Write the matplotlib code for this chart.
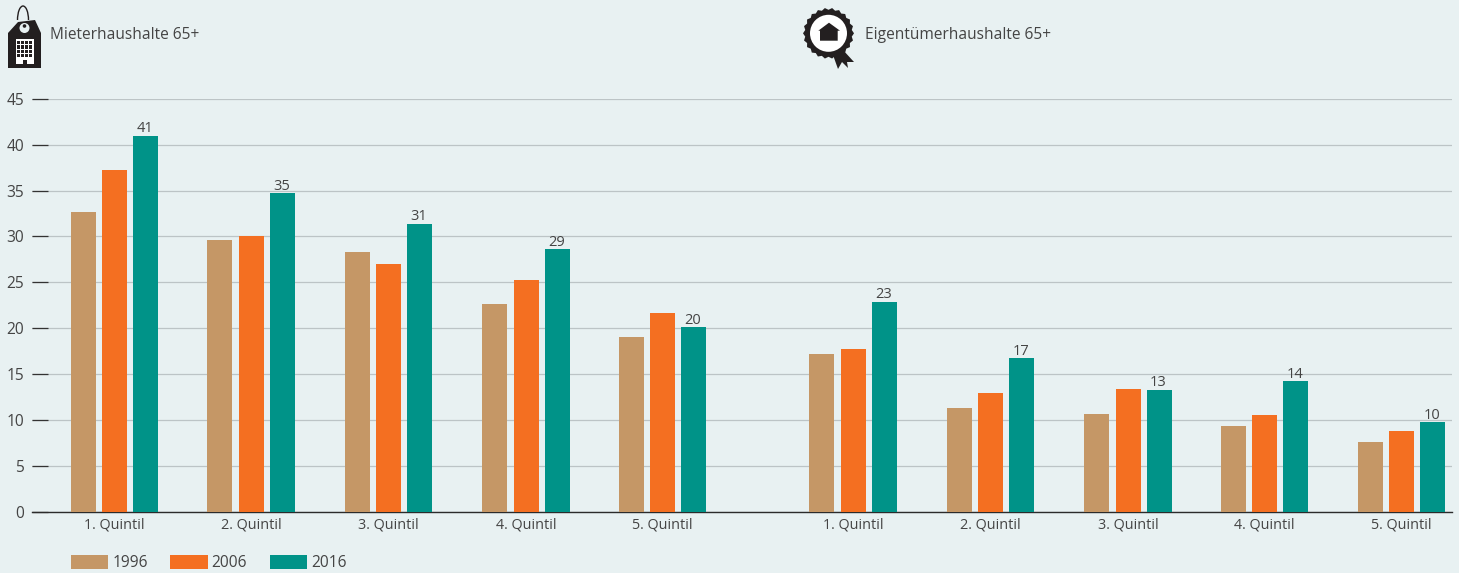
import matplotlib
matplotlib.use("Agg")
import matplotlib.pyplot as plt
import numpy as np
from matplotlib.patches import Polygon, Circle, Rectangle, Arc

plt.rcParams['font.family'] = ['Open Sans', 'DejaVu Sans']

# data
quintile_labels = ["1. Quintil", "2. Quintil", "3. Quintil", "4. Quintil", "5. Quintil"]
years = ["1996", "2006", "2016"]
miete_1996 = [32.7, 29.6, 28.3, 22.6, 19.0]
miete_2006 = [37.25, 30.1, 27.0, 25.25, 21.65]
miete_2016 = [41.0, 34.7, 31.4, 28.6, 20.1]
eigen_1996 = [17.2, 11.3, 10.6, 9.3, 7.6]
eigen_2006 = [17.7, 12.9, 13.35, 10.5, 8.8]
eigen_2016 = [22.85, 16.7, 13.25, 14.2, 9.75]
labels_miete = ["41", "35", "31", "29", "20"]
labels_eigen = ["23", "17", "13", "14", "10"]
yticks = [0, 5, 10, 15, 20, 25, 30, 35, 40, 45]

bg = "#e8f1f2"
colors = ["#c59766", "#f46f21", "#009388"]
textcol = "#444444"
W, H = 1459, 573

fig = plt.figure(figsize=(W / 100, H / 100), dpi=100, facecolor=bg)
# axes x units are pixels of the figure, y is the real scale
ax = fig.add_axes([32 / W, 1 - 511.5 / H, (1452 - 32) / W, (511.5 - 99) / H], facecolor=bg)
ax.set_xlim(32, 1452)
ax.set_ylim(0, 45)

centers = np.array([114.5, 251, 388.5, 526, 662.5, 853, 990.5, 1128, 1264.5, 1401.5])
series = [miete_1996 + eigen_1996, miete_2006 + eigen_2006, miete_2016 + eigen_2016]
offsets = [-31.3, 0, 31.3]
bars = []
for vals, off, col, yr in zip(series, offsets, colors, years):
    bars.append(ax.bar(centers + off, vals, width=25, color=col, label=yr, zorder=3))

# labels over the 2016 bars
for rect, lab in zip(bars[2], labels_miete + labels_eigen):
    ax.text(rect.get_x() + rect.get_width() / 2 - 1, rect.get_height() - 0.05, lab, ha="center",
            va="bottom", fontsize=10.5, color=textcol, zorder=4)

ax.set_xticks(centers)
ax.set_xticklabels(quintile_labels + quintile_labels, fontsize=10.4, color=textcol)
ax.tick_params(axis="x", length=0, pad=4.5)
ax.set_yticks(yticks)
ax.set_yticklabels(yticks, fontsize=11.2, color=textcol)
ax.tick_params(axis="y", direction="in", length=11.5, width=0.9, color="#333333", pad=5.5)
ax.grid(axis="y", color="#bcc4c6", linewidth=0.9, zorder=0)
ax.set_axisbelow(True)
for s in ["top", "right", "left"]:
    ax.spines[s].set_visible(False)
ax.spines["bottom"].set_color("#2b2b2b")
ax.spines["bottom"].set_linewidth(1.0)

leg = fig.legend(handles=bars, labels=years, loc="lower left", bbox_to_anchor=(69.5 / W, 0.0),
                 ncol=3, frameon=False, fontsize=11.2, handlelength=2.4, handleheight=1.05,
                 handletextpad=0.25, columnspacing=1.45, borderpad=0.1, borderaxespad=0, labelcolor=textcol)

# overlay in pixel coordinates for the icons and headings
ov = fig.add_axes([0, 0, 1, 1], facecolor="none")
ov.set_xlim(0, W)
ov.set_ylim(H, 0)
ov.axis("off")
dark = "#231f20"

# price tag with building
ov.add_patch(Arc((23, 20), 11, 28, theta1=180, theta2=360, color=dark, lw=1.0))
ov.add_patch(Polygon([(18, 22), (35, 20), (41, 33), (41, 68), (8, 68), (8, 33)], color=dark, lw=0))
ov.add_patch(Circle((24.5, 28), 5, color="#e8f1f2", lw=0))
ov.add_patch(Circle((24.5, 26), 1.8, color=dark, lw=0))
ov.add_patch(Rectangle((16, 39), 18, 25, color="white", lw=0))
for i in range(4):
    for j in range(4):
        ov.add_patch(Rectangle((17.3 + i * 3.9, 41 + j * 4.3), 3.0, 3.3, color=dark, lw=0))
ov.add_patch(Rectangle((23, 59.5), 4, 4.5, color=dark, lw=0))

# rosette with house
cx, cy = 828.5, 33.3
n_teeth = 44
ang = np.linspace(0, 2 * np.pi, n_teeth, endpoint=False)
rad = np.where(np.arange(n_teeth) % 2 == 0, 25.5, 23.5)
ov.add_patch(Polygon([(833, 55), (843, 50), (854, 62), (847, 62), (848, 68), (842, 62), (838, 69)], color=dark, lw=0))
ov.add_patch(Polygon(np.c_[cx + rad * np.cos(ang), cy + rad * np.sin(ang)], color=dark, lw=0))
ov.add_patch(Circle((cx, cy), 18.5, color="white", lw=0))
ov.add_patch(Polygon([(829, 22.7), (840, 30.7), (837.7, 30.7), (837.7, 40.7), (820, 40.7), (820, 30.7), (818.3, 30.7)], color=dark, lw=0))

ov.text(50.5, 35, "Mieterhaushalte 65+", fontsize=11.2, color=textcol, va="center", ha="left")
ov.text(865, 35, "Eigentümerhaushalte 65+", fontsize=11.2, color=textcol, va="center", ha="left")

fig.savefig("out.png", dpi=100, facecolor=bg)
